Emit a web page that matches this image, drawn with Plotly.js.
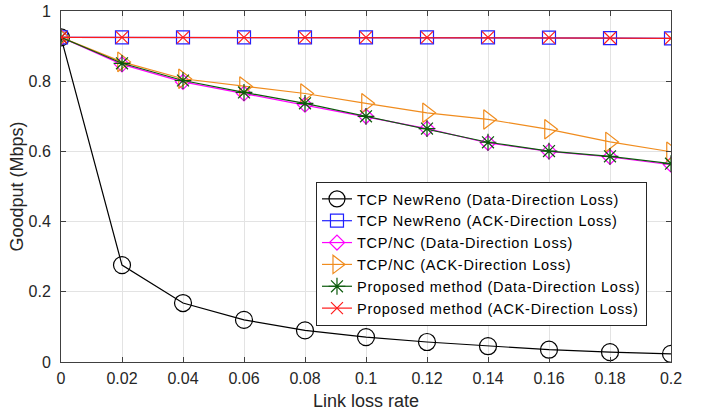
<!DOCTYPE html>
<html><head><meta charset="utf-8">
<script src="https://cdn.plot.ly/plotly-3.0.1.min.js"></script>
<style>html,body{margin:0;padding:0;background:#fff;}#chart{width:703px;height:414px;}
.legendtext{letter-spacing:0.75px;}</style>
</head><body><div id="chart"></div>
<script>
const lossRate = [0,0.02,0.04,0.06,0.08,0.1,0.12,0.14,0.16,0.18,0.2];
const xTickVals = [0,0.02,0.04,0.06,0.08,0.1,0.12,0.14,0.16,0.18,0.2];
const xTickText = ["0","0.02","0.04","0.06","0.08","0.1","0.12","0.14","0.16","0.18","0.2"];
const yTickVals = [0,0.2,0.4,0.6,0.8,1];
const yTickText = ["0","0.2","0.4","0.6","0.8","1"];
const newRenoData = [0.925,0.276,0.168,0.120,0.090,0.071,0.057,0.045,0.035,0.028,0.023];
const newRenoAck  = [0.925,0.925,0.925,0.925,0.925,0.925,0.925,0.925,0.924,0.923,0.922];
const tcpNcData   = [0.925,0.848,0.798,0.765,0.733,0.700,0.665,0.624,0.600,0.584,0.562];
const tcpNcAck    = [0.925,0.855,0.807,0.785,0.765,0.737,0.710,0.691,0.663,0.627,0.599];
const propData    = [0.925,0.851,0.802,0.768,0.737,0.700,0.665,0.626,0.601,0.586,0.565];
const propAck     = [0.925,0.925,0.925,0.925,0.925,0.925,0.925,0.925,0.924,0.923,0.922];
const names = ["TCP NewReno (Data-Direction Loss)","TCP NewReno (ACK-Direction Loss)","TCP/NC (Data-Direction Loss)","TCP/NC (ACK-Direction Loss)","Proposed method (Data-Direction Loss)","Proposed method (ACK-Direction Loss)"];

function tr(y, name, color, symbol, size){
  return {x: lossRate, y: y, name: name, type:'scatter', mode:'lines+markers',
    line:{color:color, width:1.2},
    marker:{symbol:symbol, size:size, color:color, line:{color:color, width:1.2}}};
}
const data = [
  tr(newRenoData, names[0], '#000000', 'circle-open', 17),
  tr(newRenoAck, names[1], '#2020ff', 'square-open', 13),
  tr(tcpNcData, names[2], '#ff00ff', 'diamond-open', 11.5),
  tr(tcpNcAck, names[3], '#f08c1e', 'triangle-right-open', 17),
  tr(propData, names[4], '#0b5a0b', 'asterisk-open', 14),
  tr(propAck, names[5], '#ff1a1a', 'x-thin-open', 12)
];
const axCommon = {showline:true, linecolor:'#404040', linewidth:1, mirror:'ticks', ticks:'inside', ticklen:5, tickcolor:'#404040',
  showgrid:true, gridcolor:'#e3e3e3', gridwidth:1, zeroline:false, tickfont:{family:'Liberation Sans, Arial, sans-serif', size:16, color:'#262626'}};
const layout = {
  width:703, height:414, margin:{l:61, r:32, t:11, b:52},
  paper_bgcolor:'#fff', plot_bgcolor:'#fff', showlegend:true,
  font:{family:'Liberation Sans, Arial, sans-serif', color:'#262626'},
  xaxis: Object.assign({}, axCommon, {range:[0,0.2], tickmode:'array', tickvals:xTickVals, ticktext:xTickText, ticklabelstandoff:2,
    title:{text:'Link loss rate', font:{size:18, color:'#262626'}, standoff:8}}),
  yaxis: Object.assign({}, axCommon, {range:[0,1], tickmode:'array', tickvals:yTickVals, ticktext:yTickText, ticklabelstandoff:6,
    title:{text:'Goodput (Mbps)', font:{size:18, color:'#262626'}, standoff:0}}),
  legend:{x:0.418, y:0.513, xanchor:'left', yanchor:'top', bgcolor:'#fff', bordercolor:'#262626', borderwidth:1,
    font:{size:14.5, color:'#000'}, itemwidth:30, tracegroupgap:0}
};
Plotly.newPlot('chart', data, layout, {staticPlot:true});
</script></body></html>
